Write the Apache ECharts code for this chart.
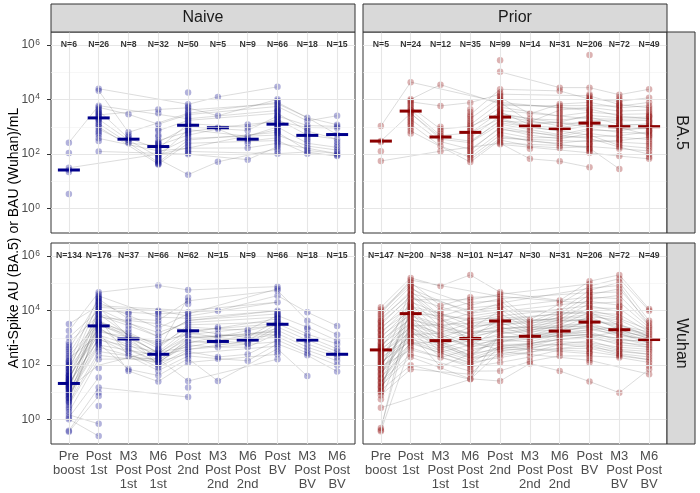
<!DOCTYPE html>
<html><head><meta charset="utf-8">
<script src="https://cdn.jsdelivr.net/npm/echarts@6/dist/echarts.min.js"></script>
<style>html,body{margin:0;padding:0;background:#fff}#c{width:700px;height:493px}</style>
</head><body><div id="c"></div>
<script>
const _ = null;
// categories and labels
const categories = ['Pre\nboost','Post\n1st','M3\nPost\n1st','M6\nPost\n1st','Post\n2nd','M3\nPost\n2nd','M6\nPost\n2nd','Post\nBV','M3\nPost\nBV','M6\nPost\nBV'];
const colNames = ['Naive','Prior'];
const rowNames = ['BA.5','Wuhan'];
const yTicks = [0, 2, 4, 6];        // log10 exponents of major ticks
const yMinor = [1, 3, 5];
const yTitle = 'Anti-Spike AU (BA.5) or BAU (Wuhan)/mL';

// group sizes
const nNaiveBA5   = [6,26,8,32,50,5,9,66,18,15];
const nPriorBA5   = [5,24,12,35,99,14,31,206,72,49];
const nNaiveWuhan = [134,176,37,66,62,15,9,66,18,15];
const nPriorWuhan = [147,200,38,101,147,30,31,206,72,49];

// medians (log10)
const medNaiveBA5   = [1.42,3.33,2.55,2.28,3.06,2.97,2.55,3.10,2.69,2.72];
const medPriorBA5   = [2.48,3.58,2.63,2.80,3.36,3.03,2.94,3.14,3.01,3.01];
const medNaiveWuhan = [1.33,3.44,2.96,2.40,3.26,2.87,2.92,3.50,2.92,2.40];
const medPriorWuhan = [2.56,3.89,2.90,2.98,3.62,3.06,3.25,3.58,3.30,2.94];

// individual values per category (log10)
const ptsNaiveBA5 = [
 [2.42,2.04,1.50,1.42,1.35,0.54],
 [4.40,4.33,3.78,3.72,3.66,3.60,3.56,3.52,3.48,3.44,3.40,3.36,3.32,3.28,3.24,3.18,3.12,3.06,3.00,2.92,2.84,2.78,2.70,2.58,2.48,2.10],
 [3.46,2.80,2.70,2.64,2.58,2.52,2.46,2.40],
 [3.64,3.50,3.10,2.92,2.86,2.70,2.64,2.50,2.44,2.38,2.32,2.28,2.24,2.20,2.16,2.12,2.08,2.05,2.02,1.99,1.96,1.93,1.90,1.86,1.82,1.78,1.74,1.70,1.67,1.64,1.62,2.40],
 [4.26,3.83,3.75,3.70,3.62,3.56,3.50,3.45,3.40,3.36,3.32,3.28,3.24,3.20,3.16,3.12,3.08,3.05,3.02,2.98,2.94,2.90,2.86,2.82,2.78,2.74,2.70,2.64,2.58,2.52,2.46,2.40,2.34,2.28,2.22,2.16,2.10,2.04,2.00,1.25],
 [4.10,3.41,2.97,2.92,1.72],
 [3.09,2.99,2.87,2.66,2.56,2.48,2.40,2.23,1.80],
 [4.47,4.01,3.95,3.90,3.85,3.80,3.75,3.70,3.65,3.60,3.55,3.50,3.45,3.40,3.36,3.32,3.28,3.24,3.20,3.16,3.12,3.08,3.04,3.00,2.96,2.92,2.88,2.84,2.80,2.75,2.70,2.65,2.60,2.55,2.50,2.45,2.40,2.34,2.28,2.20,2.12,2.02,
  3.58,3.38,3.18,2.98,2.78],
 [3.34,3.22,3.05,2.98,2.92,2.85,2.78,2.70,2.62,2.55,2.48,2.40,2.30,2.22,2.14,2.08,2.02],
 [3.41,3.08,3.02,2.96,2.72,2.55,2.45,2.35,2.25,2.15,2.08,2.02,1.96,1.93]
];
const ptsPriorBA5 = [
 [3.03,2.48,2.45,2.11,1.75],
 [4.64,4.01,3.96,3.92,3.86,3.80,3.74,3.68,3.62,3.58,3.54,3.50,3.46,3.40,3.34,3.28,3.22,3.16,3.10,3.04,2.95,2.85,2.76],
 [4.55,3.77,3.01,2.92,2.84,2.76,2.68,2.62,2.55,2.46,2.30,2.11],
 [3.89,3.65,3.55,3.45,3.38,3.30,3.22,3.15,3.08,3.02,2.96,2.90,2.84,2.78,2.72,2.66,2.60,2.54,2.48,2.42,2.36,2.30,2.24,2.18,2.12,2.06,2.00,1.94,1.88,1.80,1.71],
 [5.44,5.02,4.38,4.26,4.20,4.14,4.08,4.02,3.96,3.90,3.84,3.78,3.72,3.66,3.60,3.55,3.50,3.45,3.40,3.35,3.30,3.25,3.20,3.15,3.10,3.05,3.00,2.95,2.90,2.85,2.80,2.75,2.70,2.64,2.58,2.52,2.46,2.40,2.36,
  3.98,3.81,3.63,3.47,3.32,3.17,3.02,2.87,2.72,3.57,3.42,3.27,3.12],
 [3.48,3.30,3.18,3.08,3.03,2.98,2.90,2.80,2.70,2.60,2.48,2.30,2.20,1.83],
 [4.44,4.32,3.84,3.78,3.70,3.62,3.55,3.48,3.40,3.32,3.25,3.18,3.10,3.04,2.98,2.92,2.86,2.80,2.72,2.64,2.56,2.48,2.40,2.30,2.23,1.74],
 [5.64,4.44,4.20,4.14,4.08,4.02,3.96,3.90,3.84,3.78,3.72,3.66,3.60,3.54,3.48,3.42,3.36,3.30,3.24,3.18,3.12,3.06,3.00,2.94,2.88,2.82,2.76,2.70,2.64,2.58,2.52,2.46,2.40,2.34,2.28,2.22,2.16,2.10,2.05,1.52,
  3.99,3.81,3.63,3.45,3.27,3.09,2.91,2.73,2.55,2.37,2.19,3.57,3.39,3.21,3.03,2.85,2.67],
 [4.18,4.08,4.00,3.94,3.88,3.82,3.76,3.70,3.64,3.58,3.52,3.46,3.40,3.34,3.28,3.22,3.16,3.10,3.04,2.98,2.92,2.86,2.80,2.74,2.68,2.62,2.56,2.50,2.44,2.38,2.32,2.26,2.20,1.93,1.46,
  3.79,3.61,3.43,3.25,3.07,2.89,2.71,2.53,3.31,3.13],
 [4.38,4.07,3.90,3.78,3.70,3.62,3.55,3.48,3.42,3.36,3.30,3.24,3.18,3.12,3.06,3.00,2.94,2.88,2.82,2.76,2.70,2.62,2.54,2.46,2.38,2.30,2.22,2.12,2.00,1.90,1.83,
  3.39,3.21,3.03,2.85,2.67]
];
const ptsNaiveWuhan = [
 [3.51,3.26,3.02,2.83,2.74,2.66,2.58,2.50,2.42,2.34,2.26,2.18,2.10,2.04,1.98,1.92,1.86,1.80,1.74,1.68,1.62,1.56,1.50,1.45,1.40,1.35,1.30,1.25,1.20,1.15,1.10,1.05,1.00,0.94,0.88,0.82,0.76,0.70,0.62,0.54,0.46,0.38,0.28,0.18,0.08,0.02,-0.40,-0.44,
  2.14,2.00,1.88,1.76,1.64,1.52,1.42,1.32,1.22,1.12,1.02,0.92,0.80,0.66,1.60,1.48,1.38,1.28,1.18],
 [4.67,4.60,4.54,4.48,4.42,4.36,4.30,4.24,4.18,4.12,4.06,4.00,3.94,3.88,3.82,3.76,3.70,3.64,3.58,3.52,3.46,3.40,3.34,3.28,3.22,3.16,3.10,3.04,2.98,2.92,2.86,2.80,2.74,2.66,2.58,2.50,2.36,2.22,1.90,1.55,1.18,1.00,0.87,0.50,-0.15,-0.60,
  4.45,4.33,4.21,4.09,3.97,3.85,3.73,3.61,3.49,3.37,3.25,3.13,3.01,2.89,2.77,3.55,3.43,3.31],
 [3.94,3.88,3.70,3.58,3.45,3.32,3.20,3.10,3.00,2.92,2.84,2.76,2.68,2.60,2.52,2.44,2.34,1.85,1.79],
 [4.92,4.00,3.94,3.88,3.76,3.64,3.52,3.36,3.20,3.05,2.95,2.86,2.78,2.70,2.62,2.55,2.48,2.42,2.36,2.30,2.24,2.18,2.12,2.06,2.00,1.92,1.80,1.62,1.40,
  2.58,2.45,2.33,2.21,2.09,2.27,2.39],
 [4.76,4.48,4.36,4.24,3.94,3.88,3.80,3.72,3.64,3.56,3.48,3.40,3.33,3.26,3.19,3.12,3.05,2.98,2.90,2.82,2.74,2.66,2.58,2.50,2.42,2.34,2.24,2.10,1.42,1.18,0.83],
 [4.00,3.39,3.33,3.14,3.02,2.90,2.78,2.66,2.30,2.24,1.42],
 [3.29,3.20,3.02,2.90,2.80,2.78,2.66,2.40,2.16],
 [4.88,4.80,4.74,4.55,4.31,4.00,3.94,3.88,3.82,3.76,3.70,3.64,3.58,3.52,3.46,3.40,3.34,3.28,3.22,3.16,3.10,3.04,2.98,2.92,2.86,2.78,2.70,2.60,2.50,2.40,2.22,
  3.85,3.73,3.61,3.49,3.37,3.25,3.13],
 [3.94,3.63,3.39,3.33,3.14,3.05,2.92,2.90,2.78,2.66,2.55,2.44,2.36,1.60],
 [3.44,3.12,2.90,2.78,2.60,2.50,2.40,2.30,2.16,2.00,1.77]
];
const ptsPriorWuhan = [
 [4.12,4.04,3.96,3.88,3.80,3.72,3.64,3.56,3.48,3.40,3.32,3.24,3.16,3.08,3.00,2.92,2.84,2.76,2.68,2.60,2.52,2.44,2.36,2.28,2.20,2.12,2.04,1.96,1.88,1.80,1.72,1.64,1.56,1.48,1.40,1.32,1.24,1.16,1.08,1.00,0.90,0.75,0.44,-0.30,-0.38,-0.42,
  3.60,3.44,3.28,3.12,2.96,2.80,2.64,2.48,2.32,2.16,2.00,1.84,1.68,1.52,1.36,1.20,1.04,2.70,2.56,2.40,2.24,2.08],
 [5.20,5.12,5.04,4.96,4.88,4.80,4.72,4.64,4.56,4.48,4.40,4.32,4.24,4.16,4.08,4.00,3.92,3.84,3.76,3.68,3.60,3.52,3.44,3.36,3.28,3.20,3.12,3.04,2.96,2.88,2.80,2.72,2.64,2.56,2.40,2.30,2.00,1.85,
  4.92,4.76,4.60,4.44,4.28,4.12,3.96,3.80,3.64,3.48,3.32,3.16,3.00,2.84,4.20,4.04,3.88,3.72,3.56,3.40],
 [4.90,4.18,4.00,3.90,3.80,3.70,3.60,3.50,3.40,3.30,3.20,3.10,3.00,2.92,2.86,2.80,2.74,2.68,2.62,2.56,2.48,2.40,2.28,1.94],
 [5.31,4.49,4.40,4.30,4.20,4.10,4.00,3.90,3.80,3.70,3.62,3.54,3.46,3.38,3.30,3.22,3.14,3.06,2.98,2.90,2.82,2.74,2.66,2.58,2.50,2.42,2.34,2.26,2.18,2.10,2.02,1.94,1.86,1.78,1.67,1.50,1.48,
  3.66,3.50,3.34,3.18,3.02,2.86,2.70,2.54,2.38,2.22,2.06,2.94,2.78],
 [4.67,4.60,4.52,4.44,4.36,4.28,4.20,4.12,4.04,3.96,3.88,3.80,3.72,3.64,3.56,3.48,3.40,3.32,3.24,3.16,3.08,3.00,2.92,2.84,2.76,2.68,2.60,2.50,2.40,2.28,2.10,1.79,1.42,
  4.32,4.16,4.00,3.84,3.68,3.52,3.36,3.20,3.04,2.88,2.72,2.56,3.60,3.44,3.28],
 [3.66,3.58,3.50,3.42,3.34,3.26,3.18,3.10,3.02,2.94,2.86,2.78,2.70,2.60,2.46,2.30,2.14,2.06],
 [4.37,4.25,4.00,3.88,3.78,3.68,3.58,3.48,3.38,3.28,3.20,3.12,3.04,2.96,2.86,2.76,2.66,2.56,2.46,2.34,1.79],
 [5.08,4.98,4.90,4.82,4.74,4.66,4.58,4.50,4.42,4.34,4.26,4.18,4.10,4.02,3.94,3.86,3.78,3.70,3.62,3.54,3.46,3.38,3.30,3.22,3.14,3.06,2.98,2.90,2.82,2.74,2.66,2.58,2.50,2.42,2.34,2.26,2.18,2.10,1.40,
  4.70,4.54,4.38,4.22,4.06,3.90,3.74,3.58,3.42,3.26,3.10,2.94,2.78,2.62,2.46,3.80,3.64,3.50,3.34],
 [5.31,5.17,5.04,4.92,4.80,4.68,4.56,4.44,4.32,4.20,4.08,3.96,3.86,3.76,3.66,3.56,3.46,3.38,3.30,3.22,3.14,3.06,2.98,2.90,2.82,2.74,2.66,2.58,2.50,2.42,2.34,2.28,0.99,
  4.14,3.91,3.71,3.51,3.34,3.18,3.02,2.86,2.70,2.54,2.38],
 [4.06,4.00,3.63,3.55,3.45,3.38,3.30,3.22,3.14,3.06,2.98,2.90,2.82,2.74,2.66,2.58,2.50,2.40,2.30,2.20,2.10,1.98,1.85,1.67]
];

// individual trajectories across the 10 timepoints (log10, _ = not measured)
const trajNaiveBA5 = [
 [2.42,3.78,_,_,3.30,_,_,3.60,_,_],
 [1.50,_,_,2.00,_,_,_,2.90,_,_],
 [_,4.40,_,_,3.83,4.10,_,4.47,_,_],
 [_,4.33,2.80,_,3.50,_,_,3.90,3.34,3.08],
 [_,3.60,2.58,2.20,3.12,_,2.99,3.28,2.70,2.55],
 [_,3.44,_,3.64,3.70,3.41,_,4.01,_,_],
 [_,3.28,2.52,1.90,2.90,_,2.66,3.00,2.40,2.25],
 [_,3.12,_,1.70,2.52,_,_,2.80,2.14,2.02],
 [_,2.92,2.40,2.32,2.70,2.92,2.48,2.60,_,_],
 [_,2.58,_,2.12,2.22,_,2.23,2.40,2.22,2.02],
 [_,2.10,_,_,2.00,_,1.80,2.28,_,_],
 [_,3.00,_,1.64,2.40,_,_,2.50,2.02,1.96],
 [_,3.72,3.46,3.10,3.45,_,_,3.75,3.22,3.41],
 [_,_,_,2.86,3.24,_,_,3.50,2.85,2.55],
 [_,_,_,2.50,2.82,2.97,3.09,3.20,2.98,2.96],
 [_,_,_,2.05,2.58,_,_,2.70,2.30,2.15],
 [_,_,_,2.44,3.00,_,2.87,3.40,3.05,3.02],
 [_,_,_,1.82,1.25,1.72,_,2.20,_,_],
 [_,_,_,_,3.62,_,_,3.85,3.34,2.72],
 [_,_,_,_,2.10,_,_,2.02,2.08,1.93]
];
const trajPriorBA5 = [
 [3.03,4.64,_,_,3.90,_,_,3.60,_,_],
 [1.75,_,2.11,_,2.40,_,_,2.28,_,_],
 [2.48,3.50,2.62,2.48,3.20,_,_,3.12,3.04,2.94],
 [_,4.01,4.55,_,3.84,_,_,3.66,3.40,3.30],
 [_,3.92,3.77,3.89,4.20,_,_,4.14,3.82,3.70],
 [_,3.74,2.92,3.02,3.50,3.30,3.25,3.36,3.10,3.06],
 [_,3.62,2.68,2.78,3.30,3.03,2.98,3.12,2.92,2.94],
 [_,3.50,2.55,2.42,3.10,2.90,2.72,2.94,2.80,2.76],
 [_,3.28,2.46,2.18,2.95,2.70,2.56,2.76,2.62,2.54],
 [_,3.10,2.30,1.88,2.70,2.48,2.40,2.52,2.44,2.38],
 [_,2.85,_,1.71,2.52,2.30,2.23,2.28,2.20,2.12],
 [_,_,_,_,5.02,_,4.44,4.44,4.18,4.38],
 [_,_,_,3.45,4.38,_,4.32,4.02,3.94,4.07],
 [_,_,_,3.30,4.08,3.48,3.84,3.90,3.70,3.78],
 [_,_,_,3.08,3.90,3.18,3.62,3.72,3.58,3.62],
 [_,_,_,2.96,3.72,_,3.40,3.54,3.46,3.48],
 [_,_,_,2.78,3.55,3.08,3.18,3.42,3.34,3.36],
 [_,_,_,2.60,3.40,_,3.04,3.24,3.22,3.24],
 [_,_,_,2.42,3.25,2.98,2.86,3.06,3.04,3.12],
 [_,_,_,2.12,3.00,_,2.64,2.88,2.86,3.00],
 [_,_,_,2.00,2.80,2.60,_,2.64,2.68,2.82],
 [_,_,_,1.80,2.58,_,_,2.46,2.50,2.62],
 [_,_,_,_,2.40,1.83,1.74,1.52,_,_],
 [_,_,_,_,2.36,_,_,2.05,1.93,1.83],
 [_,_,_,_,3.78,_,_,3.78,3.76,3.90],
 [_,_,_,_,3.15,_,_,2.70,2.32,2.22],
 [_,_,_,_,2.90,_,_,2.58,2.26,2.00],
 [_,_,_,_,2.64,_,_,2.22,1.46,_],
 [_,_,_,_,3.60,_,_,3.30,3.28,3.30],
 [_,_,_,_,3.45,_,_,3.00,2.98,2.70]
];
const trajNaiveWuhan = [
 [3.51,4.18,_,_,4.00,_,_,4.31,_,_],
 [3.26,4.67,_,4.92,4.76,_,_,4.88,_,_],
 [3.02,4.00,3.94,3.88,3.94,4.00,_,4.55,3.94,3.44],
 [2.83,3.82,3.45,3.05,3.64,_,_,4.00,_,_],
 [2.58,4.42,3.70,3.64,4.36,_,_,4.74,3.63,3.12],
 [2.34,3.58,3.20,2.70,3.40,3.33,3.29,3.82,3.39,2.90],
 [2.10,3.52,3.00,2.48,3.33,3.14,3.02,3.64,3.14,2.78],
 [1.92,3.88,3.10,2.42,3.19,3.02,2.90,3.52,3.05,2.60],
 [1.74,3.28,2.92,2.30,3.05,2.90,2.80,3.40,2.92,2.50],
 [1.62,3.10,2.76,2.18,2.90,2.78,2.78,3.28,2.78,2.40],
 [1.50,3.40,2.60,2.12,2.74,2.66,2.66,3.16,2.66,2.30],
 [1.40,4.12,_,2.00,2.58,_,_,3.04,2.55,2.16],
 [1.30,2.98,2.44,1.92,2.50,2.30,2.40,2.92,2.44,2.00],
 [1.20,3.70,2.34,1.80,2.34,2.24,2.16,2.78,2.36,1.77],
 [1.10,2.80,1.85,1.62,2.24,1.42,_,2.60,1.60,_],
 [1.00,3.22,1.79,1.40,2.10,_,_,2.40,_,_],
 [0.88,2.66,_,2.06,2.98,_,_,3.22,_,_],
 [0.76,3.88,_,3.20,3.56,_,_,3.76,_,_],
 [0.62,2.50,_,2.18,2.82,_,_,3.10,_,_],
 [0.46,3.64,_,2.62,3.48,_,_,3.58,_,_],
 [0.28,2.22,_,2.24,1.42,_,_,2.22,_,_],
 [0.08,1.55,_,_,_,_,_,_,_,_],
 [-0.40,1.18,_,_,0.83,_,_,_,_,_],
 [-0.44,0.87,_,_,_,_,_,_,_,_],
 [2.04,4.54,_,3.76,3.72,_,_,4.00,_,_],
 [1.80,4.30,_,3.36,3.88,_,_,4.80,_,_],
 [1.56,3.22,_,2.86,3.12,_,_,3.46,_,_],
 [1.35,2.92,_,2.48,2.66,_,_,3.34,_,_],
 [1.05,4.06,_,3.05,3.64,_,_,3.88,_,_],
 [0.94,2.74,_,2.36,2.58,_,_,2.86,_,_],
 [0.70,3.46,_,2.78,3.19,_,_,3.70,_,_],
 [0.54,2.36,_,2.12,2.42,_,_,2.70,_,_],
 [2.26,3.10,_,_,_,_,_,_,_,_],
 [0.18,-0.15,_,_,_,_,_,_,_,_],
 [0.02,-0.60,_,_,_,_,_,_,_,_],
 [1.15,2.00,_,2.55,4.48,_,_,_,_,_],
 [2.42,4.12,_,4.00,3.80,_,_,4.31,_,_],
 [1.68,3.76,_,3.52,3.26,_,_,3.52,_,_],
 [1.88,3.34,_,2.33,2.98,_,_,3.25,_,_],
 [1.22,3.61,_,2.45,3.05,_,_,3.13,_,_],
 [0.82,3.04,_,2.09,2.82,_,_,3.49,_,_]
];
const trajPriorWuhan = [
 [4.12,5.20,4.90,5.31,4.67,_,4.37,5.08,5.31,4.06],
 [4.00,5.04,4.18,4.49,4.52,3.66,4.25,4.90,5.17,4.00],
 [3.80,4.88,4.00,4.30,4.36,3.58,4.00,4.74,5.04,3.63],
 [3.64,4.72,3.80,4.10,4.20,3.50,3.88,4.58,4.80,3.55],
 [3.48,4.56,3.60,3.90,4.04,3.42,3.78,4.42,4.56,3.45],
 [3.32,4.40,3.40,3.70,3.88,3.34,3.68,4.26,4.32,3.38],
 [3.16,4.24,3.20,3.54,3.72,3.26,3.58,4.10,4.08,3.30],
 [3.00,4.08,3.00,3.38,3.56,3.18,3.48,3.94,3.86,3.22],
 [2.84,3.92,2.86,3.22,3.40,3.10,3.38,3.78,3.66,3.14],
 [2.68,3.76,2.74,3.06,3.24,3.02,3.28,3.62,3.46,3.06],
 [2.52,3.60,2.62,2.90,3.08,2.94,3.20,3.46,3.30,2.98],
 [2.36,3.44,2.48,2.74,2.92,2.86,3.12,3.30,3.14,2.90],
 [2.20,3.28,2.28,2.58,2.76,2.78,3.04,3.14,2.98,2.82],
 [2.04,3.12,1.94,2.42,2.60,2.70,2.96,2.98,2.82,2.74],
 [1.88,2.96,_,2.26,2.40,2.60,2.86,2.82,2.66,2.58],
 [1.72,2.80,_,2.10,2.28,2.46,2.76,2.66,2.50,2.40],
 [1.56,2.64,_,1.94,2.10,2.30,2.56,2.50,2.34,2.20],
 [1.40,2.40,_,1.78,1.79,2.14,2.34,2.34,2.28,2.10],
 [1.24,2.30,_,1.50,1.42,2.06,1.79,1.40,0.99,1.85],
 [1.08,2.00,_,1.48,2.50,_,_,2.18,_,1.67],
 [0.90,1.85,_,1.67,2.68,_,_,2.42,_,_],
 [0.75,3.36,_,2.34,3.00,_,_,3.22,_,_],
 [0.44,_,_,1.48,3.16,_,_,3.38,_,_],
 [-0.30,3.68,_,3.14,3.32,_,_,3.54,_,_],
 [-0.38,4.32,_,3.46,3.48,_,_,3.70,_,_],
 [-0.42,2.72,_,_,_,_,_,_,_,_],
 [3.96,4.96,_,4.20,4.44,_,_,4.66,4.68,_],
 [3.72,4.64,_,4.00,4.12,_,_,4.50,4.44,_],
 [3.56,4.48,_,3.80,3.96,_,_,4.34,4.20,_],
 [3.40,4.16,_,3.62,3.80,_,_,4.18,3.96,_],
 [3.24,4.00,_,3.30,3.64,_,_,4.02,3.76,_],
 [3.08,3.84,_,3.14,3.48,_,_,3.86,3.56,_],
 [2.92,3.68,_,2.98,3.32,_,_,3.70,3.38,3.14],
 [2.76,3.52,_,2.82,3.16,_,_,3.54,3.22,3.06],
 [2.60,3.36,_,2.66,3.00,_,_,3.38,3.06,2.98],
 [2.44,3.20,_,2.50,2.84,_,_,3.22,2.90,2.90],
 [2.28,3.04,_,2.34,2.68,_,_,3.06,2.74,2.66],
 [2.12,2.88,_,2.18,2.52,_,_,2.90,2.58,2.50],
 [1.96,2.56,_,2.02,2.36,_,_,2.74,2.42,2.30],
 [1.80,4.80,_,3.90,4.28,_,_,4.82,4.92,3.45],
 [1.64,3.92,_,3.70,3.72,_,_,3.94,3.46,3.22],
 [1.48,3.44,_,3.54,3.56,_,_,3.78,3.30,2.98],
 [1.32,3.12,_,3.22,3.24,_,_,3.46,3.14,2.82],
 [1.16,2.80,_,2.90,2.92,_,_,3.14,2.98,2.74],
 [1.00,4.40,_,4.40,4.60,_,_,4.98,_,_],
 [3.88,5.12,_,_,4.52,_,_,4.26,_,_],
 [2.00,3.60,_,2.66,2.84,3.10,3.20,3.30,3.38,3.06],
 [1.72,3.28,_,2.26,2.60,2.78,2.96,3.06,3.22,2.90],
 [2.64,4.12,_,3.34,4.00,_,_,3.90,3.71,3.30],
 [2.32,3.80,_,3.02,3.68,_,_,3.64,3.51,3.06],
 [2.00,3.48,_,2.70,3.36,_,_,3.42,3.18,2.82],
 [1.68,3.16,_,2.38,3.04,_,_,3.10,2.86,2.66],
 [1.36,2.84,_,2.06,2.72,_,_,2.78,2.54,2.40],
 [1.04,4.60,_,2.86,2.56,_,_,2.62,2.38,2.20]
];

const panels = [
 {col:0,row:0,n:nNaiveBA5,  pts:ptsNaiveBA5,  med:medNaiveBA5,  traj:trajNaiveBA5},
 {col:1,row:0,n:nPriorBA5,  pts:ptsPriorBA5,  med:medPriorBA5,  traj:trajPriorBA5},
 {col:0,row:1,n:nNaiveWuhan,pts:ptsNaiveWuhan,med:medNaiveWuhan,traj:trajNaiveWuhan},
 {col:1,row:1,n:nPriorWuhan,pts:ptsPriorWuhan,med:medPriorWuhan,traj:trajPriorWuhan}
];
const colRGB = ['0,0,139','139,0,0'];
const colSolid = ['#00008b','#8b0000'];

// layout
const colLeft = [51, 363], colW = 304;
const rowTop = [32, 243], rowH = 201;
const yMin = -0.89, yMax = 6.48;
const FONT = 'Liberation Sans, Arial, Helvetica, sans-serif';
const xs = categories.map((c, i) => i + 1);

const grids = [], xAxes = [], yAxes = [], series = [];
panels.forEach((p, gi) => {
  grids.push({left: colLeft[p.col], top: rowTop[p.row], width: colW, height: rowH,
    show: true, backgroundColor: '#fff', borderColor: '#333', borderWidth: 1,
    containLabel: false, outerBoundsMode: 'none'});
  const bottom = p.row === 1, left = p.col === 0;
  xAxes.push({gridIndex: gi, type: 'value', min: 0.4, max: 10.6,
    axisLine: {show: false}, splitLine: {show: false},
    axisTick: {show: bottom, length: 3.5, customValues: xs, lineStyle: {color: '#333', width: 1}},
    axisLabel: {show: bottom, customValues: xs, margin: 5, formatter: v => categories[Math.round(v) - 1],
      color: '#4d4d4d', fontSize: 13, lineHeight: 14, fontFamily: FONT}
  });
  yAxes.push({gridIndex: gi, type: 'value', min: yMin, max: yMax,
    axisLine: {show: false}, splitLine: {show: false},
    axisTick: {show: left, length: 4, customValues: yTicks, lineStyle: {color: '#333', width: 1}},
    axisLabel: {show: left, customValues: yTicks, margin: 11,
      formatter: v => '{b|10}{s|' + v + '}',
      rich: {b: {fontSize: 12, color: '#4d4d4d', fontFamily: FONT, lineHeight: 14},
             s: {fontSize: 8.5, color: '#4d4d4d', fontFamily: FONT, verticalAlign: 'top', lineHeight: 10, padding: [0,0,0,0.5]}}}
  });
  // gridlines
  const ml = [];
  yTicks.forEach(v => ml.push({yAxis: v, lineStyle: {color: '#e6e6e6', width: 1.1, type: 'solid'}}));
  yMinor.forEach(v => ml.push({yAxis: v, lineStyle: {color: '#f1f1f1', width: 0.6, type: 'solid'}}));
  xs.forEach(v => ml.push({xAxis: v, lineStyle: {color: '#e6e6e6', width: 1.1, type: 'solid'}}));
  series.push({type: 'line', xAxisIndex: gi, yAxisIndex: gi, data: [[0.4, yMin]], showSymbol: false,
    lineStyle: {width: 0}, z: 1, silent: true, animation: false,
    markLine: {silent: true, symbol: ['none', 'none'], label: {show: false}, animation: false, data: ml}});
  // subject trajectories
  p.traj.forEach(t => {
    const d = [];
    for (let i = 0; i < 10; i++) if (t[i] != null) d.push([i + 1, t[i]]);
    series.push({type: 'line', xAxisIndex: gi, yAxisIndex: gi, data: d, symbol: 'none',
      lineStyle: {color: 'rgba(110,110,110,0.32)', width: 0.75}, z: 2, silent: true, animation: false});
  });
  // points
  const pd = [];
  p.pts.forEach((arr, ci) => arr.forEach(v => pd.push([ci + 1, v])));
  series.push({type: 'scatter', xAxisIndex: gi, yAxisIndex: gi, data: pd, symbolSize: 6.5,
    itemStyle: {color: 'rgba(' + colRGB[p.col] + ',0.3)', borderWidth: 0, opacity: 1}, z: 3, silent: true, animation: false});
  // medians
  series.push({type: 'scatter', xAxisIndex: gi, yAxisIndex: gi, data: p.med.map((v, i) => [i + 1, v]),
    symbol: 'rect', symbolSize: [22, 3], itemStyle: {color: colSolid[p.col], borderWidth: 0, opacity: 1}, z: 4, silent: true, animation: false});
  // N labels
  series.push({type: 'scatter', xAxisIndex: gi, yAxisIndex: gi, data: p.n.map((v, i) => [i + 1, 6, v]),
    symbolSize: 1, itemStyle: {color: 'rgba(0,0,0,0)'}, z: 5, silent: true, animation: false,
    label: {show: true, position: 'inside', formatter: q => 'N=' + q.value[2],
      color: '#000', fontSize: 8.7, fontWeight: 'bold', fontFamily: FONT}});
});

// facet strips and axis title
const graphic = [];
colNames.forEach((name, c) => {
  graphic.push({type: 'rect', shape: {x: colLeft[c], y: 4, width: colW, height: rowTop[0] - 4},
    style: {fill: '#d9d9d9', stroke: '#333', lineWidth: 1}, z: 10, silent: true});
  graphic.push({type: 'text', x: colLeft[c] + colW / 2, y: 18, z: 11, silent: true,
    style: {text: name, fill: '#1a1a1a', font: '16px ' + FONT, textAlign: 'center', textVerticalAlign: 'middle'}});
});
rowNames.forEach((name, r) => {
  const x0 = colLeft[1] + colW;
  graphic.push({type: 'rect', shape: {x: x0, y: rowTop[r], width: 28, height: rowH},
    style: {fill: '#d9d9d9', stroke: '#333', lineWidth: 1}, z: 10, silent: true});
  graphic.push({type: 'text', x: x0 + 14, y: rowTop[r] + rowH / 2, rotation: -Math.PI / 2, z: 11, silent: true,
    style: {text: name, fill: '#1a1a1a', font: '16px ' + FONT, textAlign: 'center', textVerticalAlign: 'middle'}});
});
graphic.push({type: 'text', x: 14, y: (rowTop[0] + rowTop[1] + rowH) / 2, rotation: Math.PI / 2, z: 11, silent: true,
  style: {text: yTitle, fill: '#000', font: '14px ' + FONT, textAlign: 'center', textVerticalAlign: 'middle'}});

const chart = echarts.init(document.getElementById('c'), null, {renderer: 'canvas'});
chart.setOption({animation: false, backgroundColor: '#fff', grid: grids, xAxis: xAxes, yAxis: yAxes, series: series, graphic: graphic});
</script></body></html>
